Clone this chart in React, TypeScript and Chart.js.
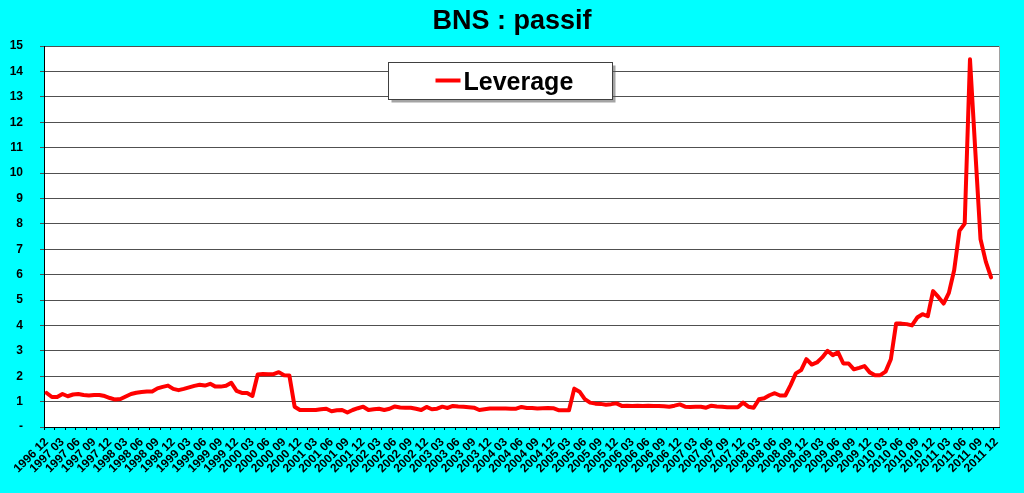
import React, { useEffect, useRef } from "react";
import { Chart, registerables } from "chart.js";

Chart.register(...registerables);

const TITLE = "BNS : passif";
const SERIES_LABEL = "Leverage";

// Monthly categories 1996 12 .. 2011 12
const START_YEAR = 1996;
const START_MONTH = 12;
const MONTH_COUNT = 181;
const categories: string[] = [];
for (let k = 0; k < MONTH_COUNT; k++) {
  const m0 = START_MONTH - 1 + k;
  const y = START_YEAR + Math.floor(m0 / 12);
  const m = (m0 % 12) + 1;
  categories.push(`${y} ${m < 10 ? "0" + m : m}`);
}

const leverage: number[] = [
  1.34, 1.18, 1.18, 1.30, 1.21, 1.28, 1.30, 1.26, 1.24, 1.26,
  1.26, 1.22, 1.14, 1.08, 1.10, 1.20, 1.30, 1.35, 1.38, 1.40,
  1.40, 1.52, 1.58, 1.63, 1.50, 1.45, 1.50, 1.56, 1.62, 1.66,
  1.63, 1.70, 1.59, 1.59, 1.62, 1.74, 1.42, 1.34, 1.34, 1.22,
  2.07, 2.09, 2.08, 2.08, 2.16, 2.04, 2.03, 0.80, 0.67, 0.67,
  0.67, 0.67, 0.70, 0.72, 0.62, 0.66, 0.67, 0.57, 0.67, 0.74,
  0.80, 0.67, 0.70, 0.72, 0.67, 0.72, 0.81, 0.77, 0.76, 0.76,
  0.72, 0.67, 0.79, 0.70, 0.72, 0.80, 0.75, 0.83, 0.81, 0.80,
  0.78, 0.76, 0.67, 0.70, 0.73, 0.73, 0.73, 0.73, 0.72, 0.72,
  0.79, 0.75, 0.75, 0.73, 0.74, 0.75, 0.74, 0.66, 0.66, 0.66,
  1.51, 1.39, 1.10, 0.96, 0.92, 0.91, 0.88, 0.90, 0.93, 0.83,
  0.84, 0.83, 0.84, 0.83, 0.84, 0.83, 0.83, 0.82, 0.80, 0.84,
  0.89, 0.80, 0.79, 0.80, 0.80, 0.76, 0.84, 0.81, 0.80, 0.78,
  0.78, 0.78, 0.96, 0.80, 0.76, 1.09, 1.13, 1.25, 1.33, 1.24,
  1.24, 1.65, 2.11, 2.24, 2.67, 2.46, 2.54, 2.74, 3.00, 2.83,
  2.94, 2.50, 2.50, 2.27, 2.33, 2.40, 2.15, 2.04, 2.04, 2.18,
  2.67, 4.07, 4.07, 4.05, 4.00, 4.31, 4.44, 4.36, 5.35, 5.12,
  4.86, 5.28, 6.17, 7.72, 8.01, 14.48, 10.90, 7.39, 6.51, 5.89,
];

const Y_MIN = 0;
const Y_MAX = 15;
const Y_STEP = 1;
const LABEL_EVERY = 3;
const TICKMARK_EVERY = 2;

const FONT = "Arial, 'Liberation Sans', sans-serif";
const RED = "#FF0000";

const bgPlugin = {
  id: "bgPlugin",
  beforeDraw(chart: any) {
    const { ctx, width, height, chartArea } = chart;
    ctx.save();
    ctx.fillStyle = "#00FFFF";
    ctx.fillRect(0, 0, width, height);
    ctx.fillStyle = "#FFFFFF";
    ctx.fillRect(chartArea.left, chartArea.top, chartArea.right - chartArea.left, chartArea.bottom - chartArea.top);
    ctx.strokeStyle = "#A0A0A0";
    ctx.lineWidth = 1;
    ctx.strokeRect(
      Math.round(chartArea.left) + 0.5,
      Math.round(chartArea.top) + 0.5,
      Math.round(chartArea.right - chartArea.left),
      Math.round(chartArea.bottom - chartArea.top)
    );
    // title, centred on the whole canvas
    ctx.fillStyle = "#000000";
    ctx.font = `bold 27px ${FONT}`;
    ctx.textAlign = "center";
    ctx.textBaseline = "middle";
    ctx.fillText(TITLE, width / 2, 22);
    ctx.restore();
  },
};

const legendBoxPlugin = {
  id: "legendBoxPlugin",
  afterDraw(chart: any) {
    const { ctx, chartArea } = chart;
    const ds = chart.data.datasets[0];
    const x = Math.round(chartArea.left + 344) + 0.5;
    const y = Math.round(chartArea.top + 16) + 0.5;
    const w = 224;
    const h = 37;
    ctx.save();
    ctx.fillStyle = "rgba(90,90,90,0.55)";
    ctx.fillRect(x + 3, y + 3, w, h);
    ctx.fillStyle = "#FFFFFF";
    ctx.fillRect(x, y, w, h);
    ctx.strokeStyle = "#404040";
    ctx.lineWidth = 1;
    ctx.strokeRect(x, y, w, h);
    ctx.strokeStyle = ds.borderColor;
    ctx.lineWidth = 4;
    ctx.beginPath();
    ctx.moveTo(x + 47, y + 18);
    ctx.lineTo(x + 72, y + 18);
    ctx.stroke();
    ctx.fillStyle = "#000000";
    ctx.font = `bold 25px ${FONT}`;
    ctx.textAlign = "left";
    ctx.textBaseline = "alphabetic";
    ctx.fillText(ds.label, x + 75, y + 27);
    ctx.restore();
  },
};

export default function App() {
  const canvasRef = useRef<HTMLCanvasElement | null>(null);

  useEffect(() => {
    if (!canvasRef.current) return;
    const chart = new Chart(canvasRef.current, {
      type: "line",
      data: {
        labels: categories,
        datasets: [
          {
            label: SERIES_LABEL,
            data: leverage,
            borderColor: RED,
            backgroundColor: RED,
            borderWidth: 4,
            pointRadius: 0,
            tension: 0,
            fill: false,
            borderJoinStyle: "round",
            borderCapStyle: "round",
          },
        ],
      },
      options: {
        responsive: false,
        animation: false,
        devicePixelRatio: 1,
        layout: { padding: { left: 0, right: 25, top: 46, bottom: 0 } },
        plugins: {
          legend: { display: false },
          tooltip: { enabled: false },
          title: { display: false },
        },
        scales: {
          x: {
            type: "category",
            offset: true,
            grid: {
              display: true,
              drawOnChartArea: false,
              drawTicks: true,
              tickLength: 3,
              offset: true,
              color: (c: any) =>
                typeof c.index === "number" && c.index % TICKMARK_EVERY === 0 ? "#000000" : "rgba(0,0,0,0)",
            },
            border: { display: true, color: "#000000", width: 1 },
            ticks: {
              autoSkip: false,
              maxRotation: 45,
              minRotation: 45,
              padding: 5,
              color: "#000000",
              font: { family: FONT, size: 12, weight: "bold" },
              callback: (_v: any, i: number) => (i % LABEL_EVERY === 0 ? categories[i] : ""),
            },
            afterFit: (s: any) => {
              s.height = 66;
            },
          },
          y: {
            min: Y_MIN,
            max: Y_MAX,
            grid: {
              color: "#505050",
              lineWidth: 1,
              drawTicks: true,
              tickLength: 4,
            },
            border: { display: true, color: "#000000", width: 1 },
            ticks: {
              stepSize: Y_STEP,
              padding: 17,
              color: "#000000",
              font: { family: FONT, size: 12, weight: "bold" },
              callback: (v: any) => (Number(v) === 0 ? "-" : String(v)),
            },
            afterFit: (s: any) => {
              s.width = 44;
            },
          },
        },
      },
      plugins: [bgPlugin, legendBoxPlugin],
    });
    return () => chart.destroy();
  }, []);

  return (
    <div style={{ position: "absolute", left: 0, top: 0, width: 1024, height: 493, background: "#00FFFF" }}>
      <canvas ref={canvasRef} width={1024} height={493} style={{ display: "block" }} />
    </div>
  );
}
